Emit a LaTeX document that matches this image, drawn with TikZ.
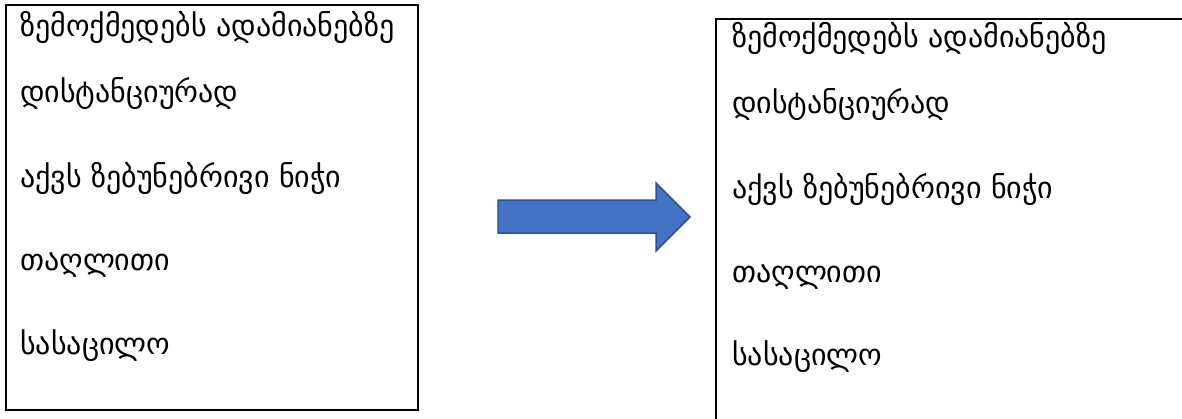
\documentclass[tikz,border=0pt]{standalone}
\usepackage{fontspec}
\newfontfamily\geo[Script=Georgian]{DejaVu Sans}
\definecolor{arrowfill}{HTML}{4472C4}
\definecolor{arrowline}{HTML}{2F528F}
\tikzset{
  box/.style={draw=black, line width=2pt},
  txt/.style={anchor=base west, inner sep=0pt, font=\geo\fontsize{30}{36}\selectfont},
  blockarrow/.style={fill=arrowfill, draw=arrowline, line width=1.5pt, line join=miter}
}
\begin{document}
\begin{tikzpicture}[x=1pt,y=-1pt]
\useasboundingbox (0,0) rectangle (1182,418);
\node[box, anchor=north west, minimum width=412pt, minimum height=405pt, inner sep=0pt] (left) at (5,4) {};
\draw[box] (1190,19) -- (716,19) coordinate (rtop) -- (716,430);
\node[txt] (l1) at (20,36) {ზემოქმედებს ადამიანებზე};
\node[txt] (l2) at (20,102) {დისტანციურად};
\node[txt] (l3) at (20,187) {აქვს ზებუნებრივი ნიჭი};
\node[txt] (l4) at (20,270) {თაღლითი};
\node[txt] (l5) at (20,354) {სასაცილო};
\node[txt] (r1) at (732,47) {ზემოქმედებს ადამიანებზე};
\node[txt] (r2) at (732,113) {დისტანციურად};
\node[txt] (r3) at (732,198) {აქვს ზებუნებრივი ნიჭი};
\node[txt] (r4) at (732,282) {თაღლითი};
\node[txt] (r5) at (732,365) {სასაცილო};
\draw[blockarrow] (498,200) -- (656,200) -- (656,183) -- (690,217) -- (656,251) -- (656,233) -- (498,233) -- cycle;
\end{tikzpicture}
\end{document}
